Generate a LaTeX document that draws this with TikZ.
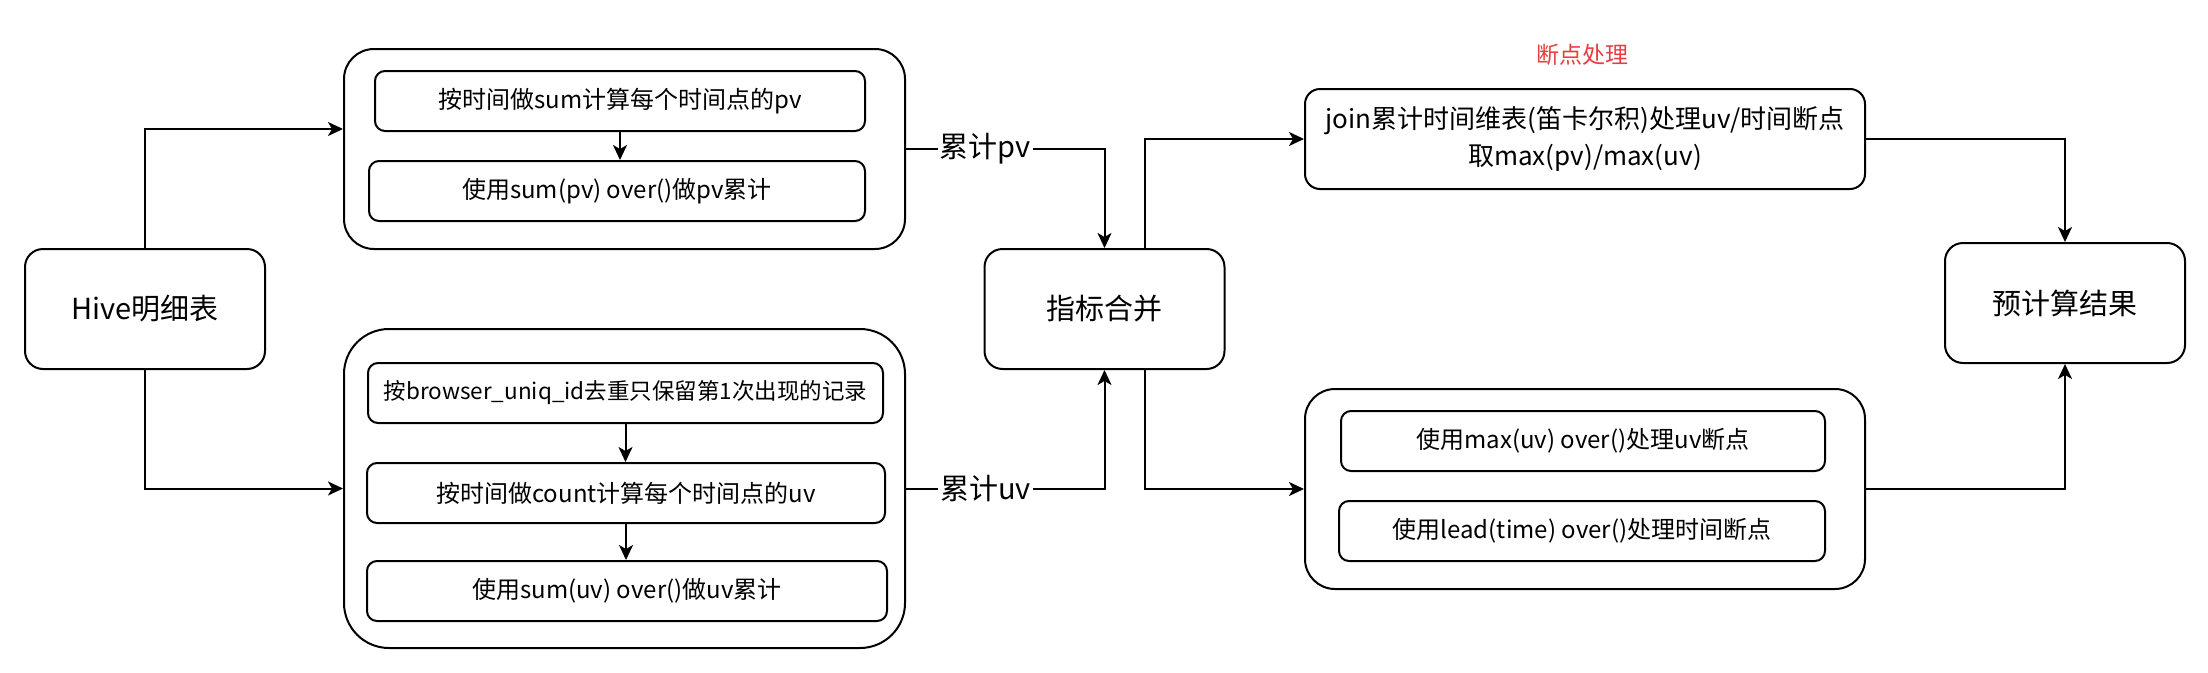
\documentclass[tikz,border=0pt]{standalone}
\usepackage{fontspec}
\setmainfont{Noto Sans CJK SC}
\usetikzlibrary{arrows.meta}
\definecolor{redlbl}{RGB}{230,62,62}
\begin{document}
\begin{tikzpicture}[x=1pt,y=-1pt,
  every node/.style={inner sep=0pt},
  bigbox/.style={draw, line width=2pt, rounded corners=18pt, minimum width=240pt, minimum height=120pt, font=\fontsize{29}{34}\selectfont},
  grp/.style={draw, line width=2pt, rounded corners=30pt},
  inbox/.style={draw, line width=2pt, rounded corners=10pt, minimum height=60pt, font=\fontsize{24}{29}\selectfont},
  arr/.style={line width=2pt, -{Stealth[length=15pt,width=14pt,inset=4pt]}},
  lbl/.style={fill=white, inner sep=2pt, font=\fontsize{29}{34}\selectfont}]
\fill[white] (0,0) rectangle (2208,672);
\useasboundingbox (0,0) rectangle (2208,672);

% left source
\node[bigbox] (hive) at (145,309) {Hive明细表};

% top-left group
\node[grp, minimum width=561pt, minimum height=200pt] (g1) at (624.5,149) {};
\node[inbox, minimum width=490pt] (a1) at (620,101) {按时间做sum计算每个时间点的pv};
\node[inbox, minimum width=496pt] (a2) at (617,191) {使用sum(pv) over()做pv累计};

% bottom-left group
\node[grp, rounded corners=45pt, minimum width=561pt, minimum height=319pt] (g2) at (624.5,488.5) {};
\node[inbox, minimum width=515pt, font=\fontsize{22.5}{28}\selectfont] (b1) at (625.5,393) {按browser\_uniq\_id去重只保留第1次出现的记录};
\node[inbox, minimum width=518pt] (b2) at (626,493) {按时间做count计算每个时间点的uv};
\node[inbox, minimum width=520pt] (b3) at (627,591) {使用sum(uv) over()做uv累计};

% merge
\node[bigbox] (merge) at (1104.5,309) {指标合并};

% join box
\node[draw, line width=2pt, rounded corners=15pt, minimum width=560pt, minimum height=100pt, align=center, font=\fontsize{26}{37}\selectfont] (join) at (1585,139) {join累计时间维表(笛卡尔积)处理uv/时间断点\\取max(pv)/max(uv)};
\node[font=\fontsize{23}{28}\selectfont, text=redlbl] (bp) at (1582,55) {断点处理};

% bottom-right group
\node[grp, minimum width=560pt, minimum height=200pt] (g3) at (1585,489) {};
\node[inbox, minimum width=484pt] (c1) at (1583,441) {使用max(uv) over()处理uv断点};
\node[inbox, minimum width=486pt] (c2) at (1582,531) {使用lead(time) over()处理时间断点};

% result
\node[bigbox] (res) at (2065,303) {预计算结果};

% connectors
\draw[arr] (hive.north) |- ([yshift=20pt]g1.west);
\draw[arr] (hive.south) |- (g2.west);
\draw[arr] (a1.south) -- (a1.south |- a2.north);
\draw[arr] (b1.south) -- (b1.south |- b2.north);
\draw[arr] (b2.south) -- (b2.south |- b3.north);
\draw[arr] (g1.east) -| node[lbl, pos=0.2] {累计pv} (merge.north);
\draw[arr] (g2.east) -| node[lbl, pos=0.2] {累计uv} (merge.south);
\draw[arr] ([xshift=40pt]merge.north) |- (join.west);
\draw[arr] ([xshift=40pt]merge.south) |- (g3.west);
\draw[arr] (join.east) -| (res.north);
\draw[arr] (g3.east) -| (res.south);
\end{tikzpicture}
\end{document}
